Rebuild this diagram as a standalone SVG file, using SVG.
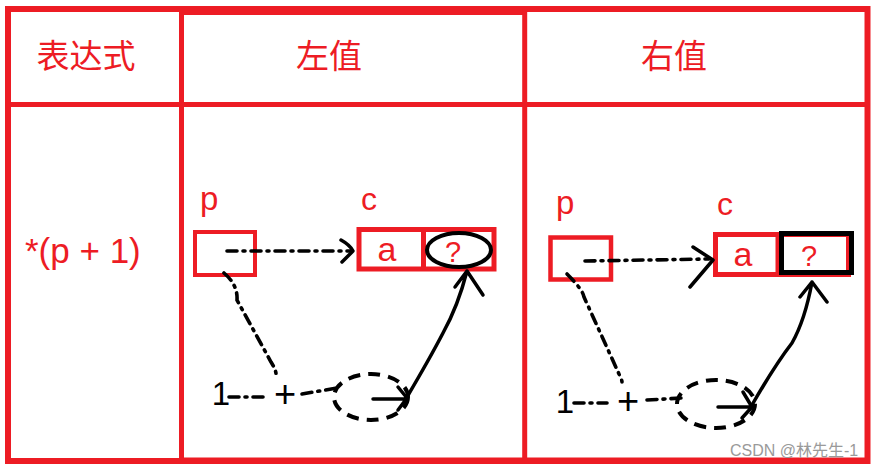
<svg xmlns="http://www.w3.org/2000/svg" width="875" height="469" viewBox="0 0 875 469">
<style>
.red{fill:none;stroke:#ED1C24}
.t{fill:#ED1C24;font-family:"Liberation Sans","Noto Sans CJK SC",sans-serif}
.cjk{fill:#ED1C24;font-family:"Noto Sans CJK SC",sans-serif;font-size:33px;text-anchor:middle}
.k{fill:#000;font-family:"Liberation Sans",sans-serif;text-anchor:middle}
.dd{fill:none;stroke:#000;stroke-width:3.6;stroke-linecap:round;stroke-dasharray:10 6 2 6}
.sol{fill:none;stroke:#000;stroke-width:3.5;stroke-linecap:round;stroke-linejoin:round}
.dash{fill:none;stroke:#000;stroke-width:4;stroke-dasharray:12 8}
</style>
<rect width="875" height="469" fill="#fff"/>
<g id="table">
<rect class="red" x="8" y="9" width="859.5" height="452" stroke-width="6"/>
<rect x="181" y="6" width="344" height="9" fill="#ED1C24"/>
<rect x="181" y="457.5" width="689" height="6" fill="#ED1C24"/>
<line class="red" x1="8" y1="104.5" x2="867" y2="104.5" stroke-width="5"/>
<line class="red" x1="181.5" y1="9" x2="181.5" y2="461" stroke-width="5"/>
<line class="red" x1="524.7" y1="9" x2="524.7" y2="461" stroke-width="5"/>
<text class="cjk" x="86" y="67.5">表达式</text>
<text class="cjk" x="329" y="67.5">左值</text>
<text class="cjk" x="674" y="67.5">右值</text>
<text class="t" x="25" y="263" font-size="35">*(p + 1)</text>
</g>
<g id="left-p">
<text class="t" x="200" y="210" font-size="33">p</text>
<rect class="red" x="195" y="232" width="60" height="43" stroke-width="4"/>
</g>
<g id="left-c">
<text class="t" x="361" y="210" font-size="32">c</text>
<rect class="red" x="359" y="229.5" width="135" height="39.5" stroke-width="5"/>
<line class="red" x1="423.5" y1="229" x2="423.5" y2="269" stroke-width="5"/>
<text class="t" x="387" y="261" font-size="34" text-anchor="middle">a</text>
<text class="t" x="453" y="262" font-size="29" text-anchor="middle">?</text>
<ellipse cx="459" cy="250" rx="32" ry="17" fill="none" stroke="#000" stroke-width="4"/>
</g>
<g id="left-one"><text class="k" x="221" y="405" font-size="33">1</text></g>
<g id="left-plus"><text class="k" x="285" y="407" font-size="38">+</text></g>
<g id="left-sum"><ellipse class="dash" cx="371" cy="397" rx="37" ry="23"/></g>
<g id="right-p">
<text class="t" x="556" y="214" font-size="33">p</text>
<rect class="red" x="550.5" y="237.5" width="60.5" height="42" stroke-width="4.5"/>
</g>
<g id="right-c">
<text class="t" x="717" y="215" font-size="32">c</text>
<rect class="red" x="715.5" y="234.5" width="133" height="40" stroke-width="5"/>
<line class="red" x1="778" y1="234" x2="778" y2="275" stroke-width="5"/>
<rect x="781.5" y="233.5" width="70" height="39" fill="none" stroke="#000" stroke-width="5"/>
<text class="t" x="743" y="266" font-size="34" text-anchor="middle">a</text>
<text class="t" x="809" y="266" font-size="29" text-anchor="middle">?</text>
</g>
<g id="right-one"><text class="k" x="565" y="413" font-size="33">1</text></g>
<g id="right-plus"><text class="k" x="628" y="414" font-size="38">+</text></g>
<g id="right-sum"><ellipse class="dash" cx="716" cy="404" rx="39" ry="24"/></g>
<g id="connectors">
<path class="dd" d="M227 251 L351 251"/>
<path class="sol" d="M341 240 Q350 245 353 251 Q348 256 342 262"/>
<path class="dd" d="M224 273 Q238 285 237 300 L271 362 Q276 370 276 374"/>
<path class="dd" d="M229 397 L263 397"/>
<path class="dd" d="M302 394 L337 388"/>
<path class="sol" d="M373 399 L407 399 M398 387 L407 398 L398 410"/>
<path class="sol" d="M407 397 Q430 358 443 333 Q458 306 467 271 M455 287 L467 271 L483 295"/>
<path class="dd" d="M585 261 L709 259"/>
<path class="sol" d="M693 247 L713 260 L690 287"/>
<path class="dd" d="M567 274 Q583 290 584 297 L619 374 Q622 380 622 382"/>
<path class="dd" d="M574 403 L607 403"/>
<path class="dd" d="M647 400 L682 398"/>
<path class="sol" d="M718 407 L752 407 M743 392 L752 407 L742 418"/>
<path class="sol" d="M752 405 Q775 365 792 343 Q805 320 812 282 M800 297 L812 282 L827 302"/>
</g>
<text x="730" y="456" font-size="16" fill="#9a9a9a" font-family="Liberation Sans,Noto Sans CJK SC,sans-serif">CSDN @林先生-1</text>
</svg>
